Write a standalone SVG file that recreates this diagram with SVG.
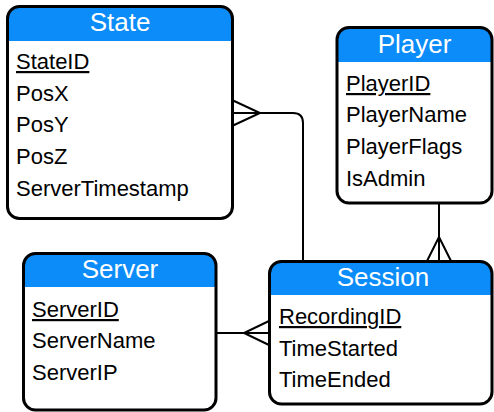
<svg xmlns="http://www.w3.org/2000/svg" width="494" height="412" viewBox="0 0 494 412">
<style>
.hdr{fill:#0b8cf8;}
.box{fill:none;stroke:#000;stroke-width:3;}
.bg{fill:#fff;}
.title{font-family:"Liberation Sans",Arial,sans-serif;font-size:26px;fill:#fff;text-anchor:middle;}
.attr{font-family:"Liberation Sans",Arial,sans-serif;font-size:22px;fill:#000;}
.pk{text-decoration:underline;}
.conn{fill:none;stroke:#000;stroke-width:2;}
</style>
<rect width="494" height="412" fill="#fff"/>
<g id="connectors">
<path class="conn" d="M232 113 H293 Q303 113 303 123 V261"/>
<path class="conn" d="M232 100 L260 113 L232 126"/>
<path class="conn" d="M439 203 V261"/>
<path class="conn" d="M427 261 L439 237 L451 261"/>
<path class="conn" d="M216 333 H269"/>
<path class="conn" d="M269 321 L244 333 L269 345"/>
</g>
<g id="State">
<rect class="bg" x="7.5" y="6.5" width="225" height="212" rx="12"/>
<path class="hdr" d="M7.5 41 V18.5 A12 12 0 0 1 19.5 6.5 H220.5 A12 12 0 0 1 232.5 18.5 V41 Z"/>
<rect class="box" x="7.5" y="6.5" width="225" height="212" rx="12"/>
<text class="title" x="120" y="31">State</text>
<text class="attr pk" x="16" y="69">StateID</text>
<text class="attr" x="16" y="101">PosX</text>
<text class="attr" x="16" y="132">PosY</text>
<text class="attr" x="16" y="164">PosZ</text>
<text class="attr" x="16" y="196">ServerTimestamp</text>
</g>
<g id="Player">
<rect class="bg" x="337" y="27.5" width="155" height="175.5" rx="12"/>
<path class="hdr" d="M337 62 V39.5 A12 12 0 0 1 349 27.5 H480 A12 12 0 0 1 492 39.5 V62 Z"/>
<rect class="box" x="337" y="27.5" width="155" height="175.5" rx="12"/>
<text class="title" x="414.5" y="53">Player</text>
<text class="attr pk" x="346" y="91">PlayerID</text>
<text class="attr" x="346" y="122">PlayerName</text>
<text class="attr" x="346" y="154">PlayerFlags</text>
<text class="attr" x="346" y="186">IsAdmin</text>
</g>
<g id="Server">
<rect class="bg" x="23.5" y="253.5" width="192.5" height="156.5" rx="12"/>
<path class="hdr" d="M23.5 287 V265.5 A12 12 0 0 1 35.5 253.5 H204 A12 12 0 0 1 216 265.5 V287 Z"/>
<rect class="box" x="23.5" y="253.5" width="192.5" height="156.5" rx="12"/>
<text class="title" x="120" y="278">Server</text>
<text class="attr pk" x="32" y="317">ServerID</text>
<text class="attr" x="32" y="348">ServerName</text>
<text class="attr" x="32" y="380">ServerIP</text>
</g>
<g id="Session">
<rect class="bg" x="269.5" y="261.5" width="222.5" height="142.5" rx="12"/>
<path class="hdr" d="M269.5 295 V273.5 A12 12 0 0 1 281.5 261.5 H480 A12 12 0 0 1 492 273.5 V295 Z"/>
<rect class="box" x="269.5" y="261.5" width="222.5" height="142.5" rx="12"/>
<text class="title" x="383" y="286">Session</text>
<text class="attr pk" x="279" y="324">RecordingID</text>
<text class="attr" x="279" y="356">TimeStarted</text>
<text class="attr" x="279" y="387">TimeEnded</text>
</g>
</svg>
